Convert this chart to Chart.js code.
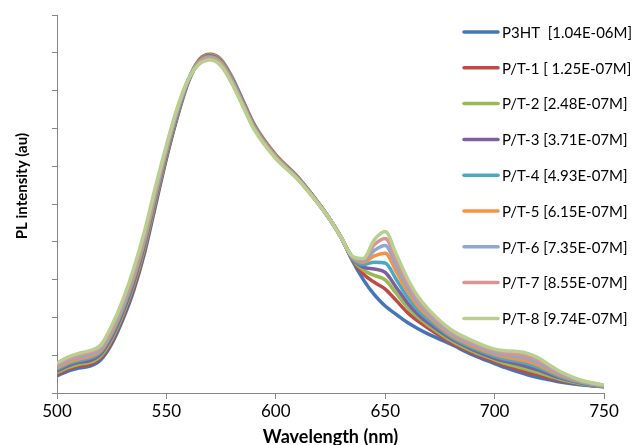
<!DOCTYPE html>
<html>
<head>
<script src="https://cdn.jsdelivr.net/npm/chart.js@4.4.0/dist/chart.umd.min.js"></script>
<style>
  body { margin: 0; background: #fff; }
</style>
</head>
<body>
<canvas id="plChart" width="638" height="445"></canvas>
<script>
// wavelength (nm) of every sample
const wavelength = [500,505,510,515,520,525,530,535,540,545,550,555,560,565,570,575,580,585,590,600,610,620,625,630,635,640,645,650,655,660,665,670,680,690,700,705,710,715,720,725,730,740,750];

// PL intensity (axis units 0..10)
const p3ht = [0.45,0.58,0.66,0.71,0.88,1.30,1.93,2.70,3.70,4.95,6.20,7.30,8.22,8.78,8.93,8.78,8.32,7.70,7.08,6.27,5.70,4.98,4.57,4.10,3.50,3.00,2.60,2.30,2.08,1.87,1.70,1.55,1.29,1.01,0.78,0.67,0.57,0.48,0.41,0.35,0.29,0.21,0.16];
const pt1 = [0.49,0.63,0.71,0.76,0.93,1.36,2.00,2.77,3.77,5.01,6.24,7.33,8.27,8.82,8.96,8.82,8.36,7.74,7.12,6.30,5.72,4.99,4.57,4.10,3.53,3.15,2.93,2.75,2.45,2.14,1.90,1.70,1.34,1.06,0.83,0.73,0.64,0.55,0.48,0.40,0.33,0.23,0.17];
const pt2 = [0.54,0.67,0.76,0.81,0.98,1.42,2.06,2.85,3.85,5.08,6.29,7.36,8.27,8.80,8.94,8.80,8.34,7.72,7.10,6.29,5.71,4.98,4.57,4.10,3.54,3.25,3.11,2.99,2.64,2.28,2.00,1.78,1.39,1.10,0.88,0.78,0.70,0.62,0.54,0.45,0.36,0.24,0.17];
const pt3 = [0.58,0.72,0.81,0.86,1.03,1.48,2.13,2.92,3.92,5.14,6.33,7.39,8.27,8.78,8.92,8.77,8.31,7.70,7.08,6.27,5.70,4.98,4.57,4.10,3.55,3.33,3.28,3.19,2.80,2.40,2.08,1.84,1.44,1.15,0.92,0.84,0.77,0.69,0.61,0.50,0.40,0.26,0.18];
const pt4 = [0.62,0.77,0.86,0.92,1.08,1.54,2.19,2.99,3.99,5.20,6.38,7.43,8.28,8.77,8.90,8.75,8.29,7.67,7.06,6.26,5.69,4.97,4.57,4.10,3.57,3.40,3.46,3.44,3.01,2.55,2.19,1.93,1.49,1.19,0.97,0.89,0.84,0.77,0.67,0.55,0.43,0.27,0.18];
const pt5 = [0.66,0.81,0.90,0.97,1.12,1.60,2.26,3.06,4.06,5.26,6.42,7.46,8.28,8.76,8.88,8.73,8.26,7.65,7.04,6.25,5.68,4.97,4.57,4.10,3.59,3.46,3.63,3.70,3.22,2.71,2.30,2.01,1.53,1.24,1.02,0.95,0.90,0.84,0.74,0.59,0.47,0.29,0.19];
const pt6 = [0.71,0.86,0.95,1.02,1.17,1.66,2.32,3.14,4.14,5.33,6.46,7.49,8.29,8.74,8.86,8.70,8.24,7.63,7.02,6.23,5.67,4.97,4.57,4.10,3.60,3.50,3.77,3.90,3.38,2.83,2.39,2.08,1.58,1.29,1.06,1.01,0.97,0.91,0.80,0.64,0.50,0.30,0.19];
const pt7 = [0.75,0.90,1.00,1.07,1.22,1.72,2.39,3.21,4.21,5.39,6.51,7.52,8.29,8.72,8.84,8.68,8.21,7.60,7.00,6.22,5.66,4.96,4.57,4.10,3.61,3.53,3.92,4.09,3.54,2.94,2.47,2.14,1.63,1.33,1.11,1.06,1.03,0.98,0.87,0.69,0.54,0.32,0.20];
const pt8 = [0.79,0.95,1.05,1.12,1.27,1.78,2.45,3.28,4.28,5.45,6.55,7.55,8.30,8.70,8.81,8.65,8.18,7.58,6.98,6.20,5.65,4.96,4.57,4.10,3.62,3.56,4.05,4.27,3.68,3.05,2.55,2.20,1.68,1.38,1.16,1.12,1.10,1.05,0.93,0.74,0.57,0.33,0.21];

const seriesLabels = ['P3HT  [1.04E-06M]', 'P/T-1 [ 1.25E-07M]', 'P/T-2 [2.48E-07M]', 'P/T-3 [3.71E-07M]', 'P/T-4 [4.93E-07M]', 'P/T-5 [6.15E-07M]', 'P/T-6 [7.35E-07M]', 'P/T-7 [8.55E-07M]', 'P/T-8 [9.74E-07M]'];
const seriesValues = [p3ht, pt1, pt2, pt3, pt4, pt5, pt6, pt7, pt8];
const seriesColors = ['#4674B9', '#BE4B48', '#98B954', '#7D60A0', '#46AAC5', '#F69240', '#8DA8D2', '#D99593', '#B8D08F'];
const xTicks = [500, 550, 600, 650, 700, 750];

const FONT = 'Lato, "Open Sans", sans-serif';

// legend on the right and the y title are drawn by hand
const sideLegend = {
  id: 'sideLegend',
  afterDraw(chart) {
    const ctx = chart.ctx;
    ctx.save();
    ctx.font = '15px ' + FONT;
    ctx.textBaseline = 'middle';
    ctx.fillStyle = '#000';
    chart.data.datasets.forEach((ds, i) => {
      const y = 32 + i * 35.8;
      ctx.strokeStyle = ds.borderColor;
      ctx.lineWidth = 3.5;
      ctx.lineCap = 'round';
      ctx.beginPath();
      ctx.moveTo(464, y);
      ctx.lineTo(498, y);
      ctx.stroke();
      ctx.fillText(ds.label, 502, y + 1);
    });
    ctx.translate(22, 186);
    ctx.rotate(-Math.PI / 2);
    ctx.font = 'bold 15px ' + FONT;
    ctx.textAlign = 'center';
    ctx.fillText('PL intensity (au)', 0, 0);
    ctx.restore();
  }
};

const datasets = seriesValues.map((vals, i) => ({
  label: seriesLabels[i],
  data: vals.map((v, k) => ({x: wavelength[k], y: v})),
  borderColor: seriesColors[i],
  backgroundColor: seriesColors[i],
  borderWidth: 3.5,
  pointRadius: 0,
  cubicInterpolationMode: 'monotone',
  order: seriesValues.length - 1 - i
}));

new Chart(document.getElementById('plChart'), {
  type: 'line',
  data: {datasets},
  plugins: [sideLegend],
  options: {
    responsive: false,
    animation: false,
    layout: {padding: {left: 0, top: 15, right: 34, bottom: 0}},
    plugins: {legend: {display: false}, tooltip: {enabled: false}},
    scales: {
      x: {
        type: 'linear',
        min: 500,
        max: 750,
        afterBuildTicks: s => { s.ticks = xTicks.map(v => ({value: v})); },
        afterFit: s => { s.height = 52; },
        ticks: {color: '#000', font: {family: FONT, size: 17}, padding: 2},
        grid: {drawOnChartArea: false, drawTicks: true, tickLength: 6, color: '#868686'},
        border: {color: '#868686'},
        title: {display: true, text: 'Wavelength (nm)', color: '#000', font: {family: FONT, size: 18, weight: 'bold'}, padding: {top: 0, bottom: -3}}
      },
      y: {
        min: 0,
        max: 10,
        afterFit: s => { s.width = 57; },
        ticks: {stepSize: 1, display: false},
        grid: {drawOnChartArea: false, drawTicks: true, tickLength: 5, color: '#868686'},
        border: {color: '#868686'}
      }
    }
  }
});
</script>
</body>
</html>
